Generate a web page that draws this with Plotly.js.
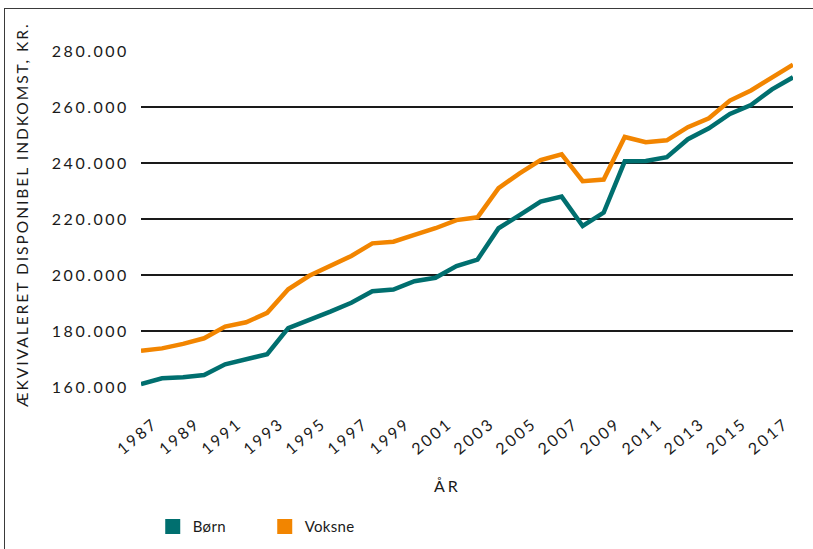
<!DOCTYPE html>
<html>
<head>
<meta charset="utf-8">
<script src="https://cdn.plot.ly/plotly-3.0.1.min.js"></script>
<style>
  html, body { margin: 0; padding: 0; background: #fff; }
  #wrap { position: relative; width: 813px; height: 549px; overflow: hidden; }
  #chart { width: 813px; height: 549px; }
  #frame { position: absolute; left: 4px; top: 8px; right: -10px; bottom: -10px;
           border-left: 1.5px solid #3a3a3a; border-top: 1.5px solid #3a3a3a; pointer-events: none; }
  .xtick text, .ytick text { letter-spacing: 2.5px; }
  .legendtext { letter-spacing: 0.3px; }
</style>
</head>
<body>
<div id="wrap">
  <div id="chart"></div>
  <div id="frame"></div>
</div>
<script>
const years = [1987,1988,1989,1990,1991,1992,1993,1994,1995,1996,1997,1998,1999,2000,2001,2002,
               2003,2004,2005,2006,2007,2008,2009,2010,2011,2012,2013,2014,2015,2016,2017,2018];
const born = [161000,163100,163500,164300,168100,169900,171700,181000,183800,186900,190100,194200,
              194800,197800,199000,203200,205500,216700,221400,226200,228000,217500,222300,240600,
              240700,242100,248500,252400,257500,260700,266300,270600];
const voksne = [172900,173800,175400,177400,181600,183100,186500,194900,199700,203200,206800,211300,
                211900,214300,216700,219600,220600,231000,236300,241000,243100,233500,234100,249300,
                247400,248100,252800,256000,262300,265900,270300,275100];
const seriesNames = ["Børn", "Voksne"];
const xTickVals = [1987,1989,1991,1993,1995,1997,1999,2001,2003,2005,2007,2009,2011,2013,2015,2017];
const yTickVals = [160000,180000,200000,220000,240000,260000,280000];
const yTickText = ["160.000","180.000","200.000","220.000","240.000","260.000","280.000"];
const yTitle = "ÆKVIVALERET DISPONIBEL INDKOMST, KR.";
const xTitle = "ÅR";

const teal = "#006f6f";
const orange = "#f28500";
const font = "Lato, 'Open Sans', sans-serif";

const traces = [
  {x: years, y: born, type: "scatter", mode: "lines", name: seriesNames[0],
   line: {color: teal, width: 4.5}, showlegend: false, hoverinfo: "skip"},
  {x: years, y: voksne, type: "scatter", mode: "lines", name: seriesNames[1],
   line: {color: orange, width: 4.5}, showlegend: false, hoverinfo: "skip"},
  {x: [null], y: [null], type: "scatter", mode: "markers", name: seriesNames[0],
   marker: {symbol: "square", size: 15, color: teal}, hoverinfo: "skip"},
  {x: [null], y: [null], type: "scatter", mode: "markers", name: seriesNames[1],
   marker: {symbol: "square", size: 15, color: orange}, hoverinfo: "skip"}
];

const layout = {
  width: 813, height: 549,
  margin: {l: 141, r: 20, t: 51, b: 162, autoexpand: false},
  paper_bgcolor: "#fff", plot_bgcolor: "#fff",
  font: {family: font, color: "#1a1a1a", size: 15},
  showlegend: true,
  legend: {orientation: "h", x: 0.018, xanchor: "left", y: -0.416, yanchor: "middle",
           entrywidth: 67, entrywidthmode: "pixels",
           font: {family: font, size: 15, color: "#1a1a1a"}, bgcolor: "rgba(0,0,0,0)"},
  xaxis: {range: [1987, 2018], tickvals: xTickVals, tickangle: -40, automargin: false,
          showgrid: false, zeroline: false, showline: false,
          ticks: "outside", ticklen: 20, tickcolor: "rgba(0,0,0,0)", ticklabelshift: 13,
          tickfont: {family: font, size: 16, color: "#1a1a1a"}},
  yaxis: {range: [160000, 280000], tickvals: yTickVals, ticktext: yTickText, automargin: false,
          showgrid: true, gridcolor: "#1a1a1a", gridwidth: 1.4, zeroline: false, showline: false,
          ticks: "outside", ticklen: 8, tickcolor: "rgba(0,0,0,0)",
          tickfont: {family: font, size: 16, color: "#1a1a1a"}},
  annotations: [
    {text: yTitle, xref: "paper", yref: "paper", x: -0.1825, y: 0.512, xanchor: "center", yanchor: "middle",
     textangle: -90, showarrow: false, font: {family: font, size: 15.5, color: "#1a1a1a"}},
    {text: xTitle, xref: "paper", yref: "paper", x: 0.4705, y: -0.292, xanchor: "center", yanchor: "middle",
     showarrow: false, font: {family: font, size: 16, color: "#1a1a1a"}}
  ]
};

Plotly.newPlot("chart", traces, layout, {displayModeBar: false, staticPlot: true}).then(() => {
  document.querySelectorAll(".annotation-text").forEach((t, i) => {
    t.style.letterSpacing = i === 0 ? "2px" : "3px";
  });
});
</script>
</body>
</html>
